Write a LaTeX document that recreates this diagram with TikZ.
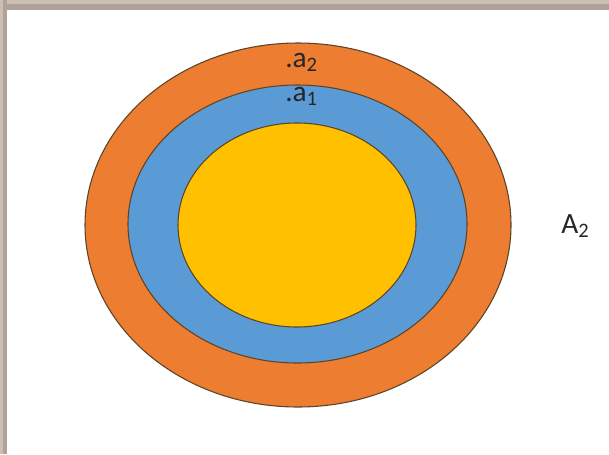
\documentclass[tikz,border=0pt]{standalone}
\usepackage{fontspec}
\setmainfont{Carlito}
\usetikzlibrary{shapes.geometric,positioning}
\definecolor{SetOrange}{RGB}{237,125,49}
\definecolor{SetBlue}{RGB}{91,155,213}
\definecolor{SetYellow}{RGB}{255,192,0}
\definecolor{SetLine}{RGB}{92,68,40}
\definecolor{FrameGray}{RGB}{176,162,152}
\definecolor{FrameLight}{RGB}{204,190,178}

\begin{document}
\begin{tikzpicture}[x=0.75pt,y=-0.75pt,
    setring/.style={ellipse, draw=SetLine, line width=0.8pt, inner sep=0pt},
    setlabel/.style={font=\fontsize{22}{26}\selectfont, inner sep=0pt, anchor=base west, text=black!85}]
  \useasboundingbox (0,0) rectangle (609,454);
  \fill[white] (0,0) rectangle (609,454);
  % frame
  \fill[FrameGray] (0,0) rectangle (609,10);
  \fill[FrameLight] (0,0) rectangle (609,4);
  \fill[FrameGray] (0,0) rectangle (7,454);
  \fill[FrameLight] (0,0) rectangle (3,454);

  % nested sets
  \node[setring, fill=SetOrange, minimum width=319.5pt, minimum height=273pt] (outer) at (298,225) {};
  \node[setring, fill=SetBlue, minimum width=254.25pt, minimum height=208.5pt] (middle) at (297.5,224) {};
  \node[setring, fill=SetYellow, minimum width=178.5pt, minimum height=153pt] (inner) at (297,225) {};

  % labels
  \node[setlabel] (a2) at (285,67) {.a\textsubscript{2}};
  \node[setlabel] (a1) at (285,101) {.a\textsubscript{1}};
  \node[setlabel] (A2) at (561,233) {A\textsubscript{2}};
\end{tikzpicture}
\end{document}
